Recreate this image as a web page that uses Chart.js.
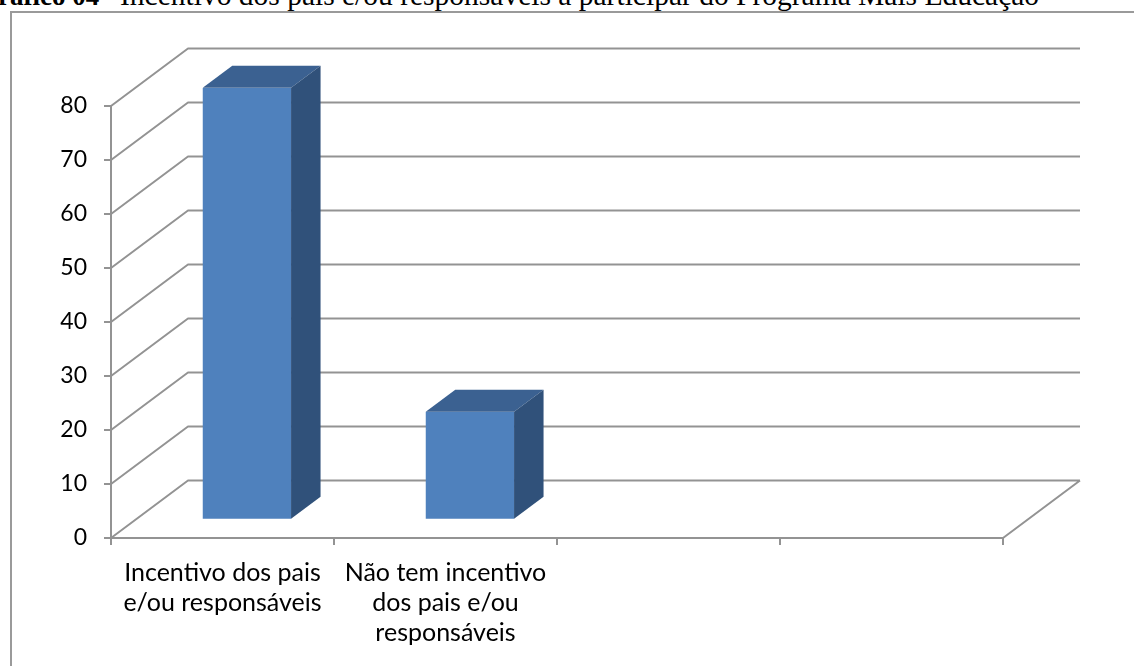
<!DOCTYPE html>
<html>
<head>
<meta charset="utf-8">
<script src="https://cdn.jsdelivr.net/npm/chart.js@4/dist/chart.umd.min.js"></script>
<style>
  html, body { margin: 0; padding: 0; background: #fff; overflow: hidden; }
  body { width: 1134px; height: 666px; position: relative; }
  .t { position: absolute; top: -19px; white-space: nowrap; line-height: 1;
       font-family: "Liberation Serif", "Times New Roman", serif; font-size: 29.5px; color: #000; }
  #t1 { left: -23px; top: -17px; font-weight: bold; font-size: 27px; }
  #t2 { left: 120px; }
  #frame { position: absolute; left: 10px; top: 11px; width: 1200px; height: 700px;
           border: 2px solid #9a9a9a; box-sizing: border-box; }
  #wrap { position: absolute; left: 0; top: 0; width: 1134px; height: 666px; }
</style>
</head>
<body>
<div class="t" id="t1">Gráfico 04 -</div>
<div class="t" id="t2">Incentivo dos pais e/ou responsáveis a participar do Programa Mais Educação</div>
<div id="frame"></div>
<div id="wrap"><canvas id="c" width="1134" height="666"></canvas></div>
<script>
// ---- data ----
const categories = [
  ['Incentivo dos pais', 'e/ou responsáveis'],
  ['Não tem incentivo', 'dos pais e/ou', 'responsáveis'],
  '',
  ''
];
const values = [80, 20, null, null];
const yTicks = [0, 10, 20, 30, 40, 50, 60, 70, 80];

// ---- style / geometry ----
const GRID = '#939393';
const FRONT = '#4f81bd';
const TOP = '#3b6191';
const SIDE = '#30517a';
const DX = 77, DY = 57.5;      // back-wall offset
const F0 = 0.317, F1 = 0.70;   // bar depth (fraction of wall depth)
const FONT = 'Lato, "Open Sans", sans-serif';
const LW = 2;

const threeD = {
  id: 'threeD',
  beforeDatasetsDraw(chart) {
    const ctx = chart.ctx, a = chart.chartArea, y = chart.scales.y;
    ctx.save();
    ctx.strokeStyle = GRID;
    ctx.lineWidth = LW;
    ctx.lineJoin = 'round';
    ctx.beginPath();
    yTicks.forEach(v => {
      const py = y.getPixelForValue(v);
      ctx.moveTo(a.left, py);
      ctx.lineTo(a.left + DX, py - DY);
      ctx.lineTo(a.right + DX, py - DY);
    });
    const p0 = y.getPixelForValue(0);
    ctx.moveTo(a.right, p0);
    ctx.lineTo(a.right + DX, p0 - DY);
    ctx.stroke();
    ctx.restore();
    ctx.save();
    ctx.translate(F0 * DX, -F0 * DY);
  },
  afterDatasetsDraw(chart) {
    const ctx = chart.ctx;
    ctx.restore();
    const sx = F0 * DX, sy = -F0 * DY;
    const ddx = (F1 - F0) * DX, ddy = (F1 - F0) * DY;
    const meta = chart.getDatasetMeta(0);
    ctx.save();
    meta.data.forEach((bar, i) => {
      if (values[i] == null) return;
      const p = bar.getProps(['x', 'y', 'base', 'width'], true);
      const L = p.x - p.width / 2 + sx, R = p.x + p.width / 2 + sx;
      const T = p.y + sy, B = p.base + sy;
      ctx.fillStyle = TOP;
      ctx.beginPath();
      ctx.moveTo(L, T); ctx.lineTo(R, T); ctx.lineTo(R + ddx, T - ddy); ctx.lineTo(L + ddx, T - ddy);
      ctx.closePath(); ctx.fill();
      ctx.fillStyle = SIDE;
      ctx.beginPath();
      ctx.moveTo(R, T); ctx.lineTo(R + ddx, T - ddy); ctx.lineTo(R + ddx, B - ddy); ctx.lineTo(R, B);
      ctx.closePath(); ctx.fill();
    });
    ctx.restore();
  }
};

new Chart(document.getElementById('c'), {
  type: 'bar',
  data: {
    labels: categories,
    datasets: [{
      data: values,
      backgroundColor: FRONT,
      borderWidth: 0,
      categoryPercentage: 1,
      barPercentage: 0.396
    }]
  },
  options: {
    responsive: false,
    animation: false,
    events: [],
    layout: { padding: { top: 106, right: 131, left: 0, bottom: 0 } },
    plugins: { legend: { display: false }, tooltip: { enabled: false }, title: { display: false } },
    scales: {
      x: {
        afterFit(s) { s.height = 128; },
        grid: { display: true, drawOnChartArea: false, drawTicks: true, tickLength: 7, color: GRID, lineWidth: LW, offset: true },
        border: { display: true, color: GRID, width: LW },
        ticks: { color: '#000', font: { family: FONT, size: 25 }, padding: 13, maxRotation: 0, autoSkip: false, lineHeight: 1.27 }
      },
      y: {
        min: 0, max: 80,
        afterFit(s) { s.width = 111; },
        afterBuildTicks(s) { s.ticks = yTicks.map(v => ({ value: v })); },
        grid: { display: true, drawOnChartArea: false, drawTicks: true, tickLength: 7, color: GRID, lineWidth: LW },
        border: { display: true, color: GRID, width: LW },
        ticks: { color: '#000', font: { family: FONT, size: 23 }, padding: 17 }
      }
    }
  },
  plugins: [threeD]
});
</script>
</body>
</html>
